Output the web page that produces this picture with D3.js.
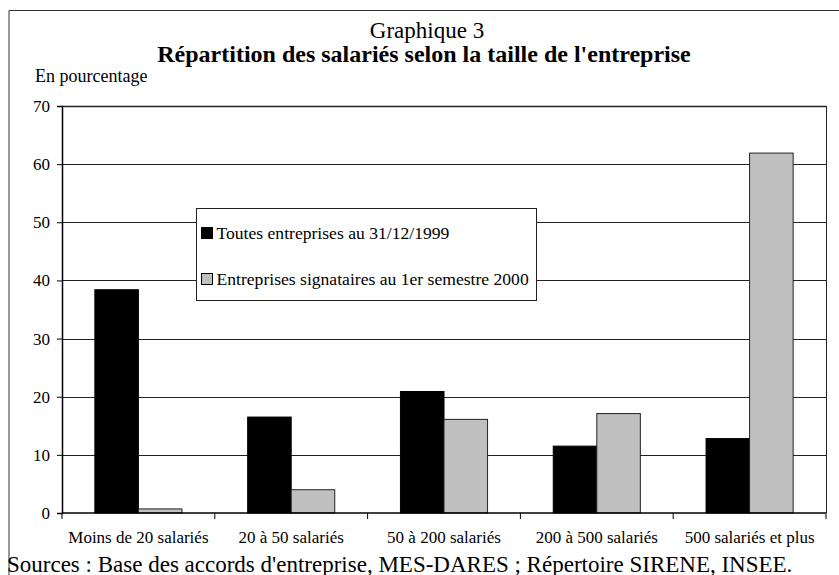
<!DOCTYPE html>
<html>
<head>
  <meta charset="utf-8">
  <title>Graphique 3</title>
  <style>
    body { margin: 0; background: #fff; }
    svg text { fill: #000; }
  </style>
</head>
<body>
  <svg width="839" height="575"></svg>

  <script src="https://d3js.org/d3.v7.min.js"></script>
  <script>

  // data
  var categories = ["Moins de 20 salariés", "20 à 50 salariés", "50 à 200 salariés", "200 à 500 salariés", "500 salariés et plus"];
  var toutes = [38.4, 16.5, 20.9, 11.5, 12.8];
  var signataires = [0.7, 4.0, 16.1, 17.1, 61.9];
  var seriesNames = ["Toutes entreprises au 31/12/1999", "Entreprises signataires au 1er semestre 2000"];
  var seriesColors = ["#000000", "#c0c0c0"];
  var yTicks = [0, 10, 20, 30, 40, 50, 60, 70];

  var serif = "'Liberation Serif', 'Times New Roman', Times, serif";

  var svg = d3.select("svg"),
      width = +svg.attr("width"),
      height = +svg.attr("height");

  var plot = { left: 62, right: 826, top: 106, bottom: 513 };

  var x = d3.scaleBand()
      .domain(categories)
      .range([plot.left, plot.right])
      .paddingInner(0)
      .paddingOuter(0);

  var bw = x.bandwidth() * 0.285;

  var y = d3.scaleLinear()
      .domain([0, 70])
      .range([plot.bottom, plot.top]);

  // outer frame (open at right and bottom, as in the scan)
  svg.append("path")
      .attr("d", "M9,580 V10.5 H845")
      .attr("fill", "none")
      .attr("stroke", "#333")
      .attr("stroke-width", 1);

  // titles
  svg.append("text")
      .attr("x", 427).attr("y", 38)
      .attr("text-anchor", "middle")
      .style("font-family", serif)
      .style("font-size", "23px")
      .text("Graphique 3");

  svg.append("text")
      .attr("x", 424).attr("y", 62)
      .attr("text-anchor", "middle")
      .style("font-family", serif)
      .style("font-size", "24px")
      .style("font-weight", "bold")
      .text("Répartition des salariés selon la taille de l'entreprise");

  svg.append("text")
      .attr("x", 35).attr("y", 82)
      .style("font-family", serif)
      .style("font-size", "18px")
      .text("En pourcentage");

  // grid lines
  svg.append("g")
    .selectAll("line")
    .data(yTicks.slice(1))
    .enter().append("line")
      .attr("x1", plot.left).attr("x2", plot.right)
      .attr("y1", function(d) { return Math.round(y(d)) + 0.5; })
      .attr("y2", function(d) { return Math.round(y(d)) + 0.5; })
      .attr("stroke", "#222")
      .attr("stroke-width", function(d) { return d === 70 ? 1.5 : 1; });

  // right border of plot area
  svg.append("line")
      .attr("x1", plot.right + 0.5).attr("x2", plot.right + 0.5)
      .attr("y1", plot.top).attr("y2", plot.bottom)
      .attr("stroke", "#222");

  // bars
  var groups = svg.append("g")
    .selectAll("g")
    .data(categories)
    .enter().append("g");

  groups.append("rect")
      .attr("x", function(d) { return x(d) + x.bandwidth() / 2 - bw; })
      .attr("y", function(d, i) { return y(toutes[i]); })
      .attr("width", bw)
      .attr("height", function(d, i) { return y(0) - y(toutes[i]); })
      .attr("fill", seriesColors[0])
      .attr("stroke", "#000");

  groups.append("rect")
      .attr("x", function(d) { return x(d) + x.bandwidth() / 2; })
      .attr("y", function(d, i) { return y(signataires[i]); })
      .attr("width", bw)
      .attr("height", function(d, i) { return y(0) - y(signataires[i]); })
      .attr("fill", seriesColors[1])
      .attr("stroke", "#222");

  // y axis
  var yAxis = svg.append("g")
      .attr("transform", "translate(" + plot.left + ",0)")
      .call(d3.axisLeft(y).tickValues(yTicks).tickSize(5).tickPadding(7));
  yAxis.attr("font-family", null).attr("font-size", null);
  yAxis.select(".domain").attr("stroke", "#000").attr("stroke-width", 1.5);
  yAxis.selectAll(".tick line").attr("stroke", "#000");
  yAxis.selectAll(".tick text")
      .style("font-family", serif)
      .style("font-size", "17px")
      .attr("fill", "#000");

  // x axis, ticks at category boundaries
  var xAxis = svg.append("g")
      .attr("transform", "translate(0," + plot.bottom + ")");
  xAxis.append("line")
      .attr("x1", plot.left).attr("x2", plot.right)
      .attr("stroke", "#000").attr("stroke-width", 1.5);
  xAxis.selectAll(".sep")
    .data(categories.concat(["end"]))
    .enter().append("line")
      .attr("class", "sep")
      .attr("x1", function(d, i) { return i < categories.length ? x(d) : plot.right; })
      .attr("x2", function(d, i) { return i < categories.length ? x(d) : plot.right; })
      .attr("y1", 0).attr("y2", 6)
      .attr("stroke", "#000");
  xAxis.selectAll(".lab")
    .data(categories)
    .enter().append("text")
      .attr("class", "lab")
      .attr("x", function(d) { return x(d) + x.bandwidth() / 2; })
      .attr("y", 30)
      .attr("text-anchor", "middle")
      .style("font-family", serif)
      .style("font-size", "17px")
      .text(function(d) { return d; });

  // legend
  var legend = svg.append("g");
  legend.append("rect")
      .attr("x", 196.5).attr("y", 208.5)
      .attr("width", 340).attr("height", 92)
      .attr("fill", "#fff")
      .attr("stroke", "#222");

  var items = legend.selectAll(".item")
    .data(seriesNames)
    .enter().append("g")
      .attr("class", "item")
      .attr("transform", function(d, i) { return "translate(201," + (227 + i * 46) + ")"; });
  items.append("rect")
      .attr("x", 0.5).attr("y", 0.5)
      .attr("width", 11).attr("height", 11)
      .attr("fill", function(d, i) { return seriesColors[i]; })
      .attr("stroke", "#000");
  items.append("text")
      .attr("x", 15.5).attr("y", 11.5)
      .style("font-family", serif)
      .style("font-size", "17.6px")
      .text(function(d) { return d; });

  // source
  svg.append("text")
      .attr("x", 7).attr("y", 571.5)
      .style("font-family", serif)
      .style("font-size", "23px")
      .text("Sources : Base des accords d'entreprise, MES-DARES ; Répertoire SIRENE, INSEE.");

  </script>
</body>
</html>
